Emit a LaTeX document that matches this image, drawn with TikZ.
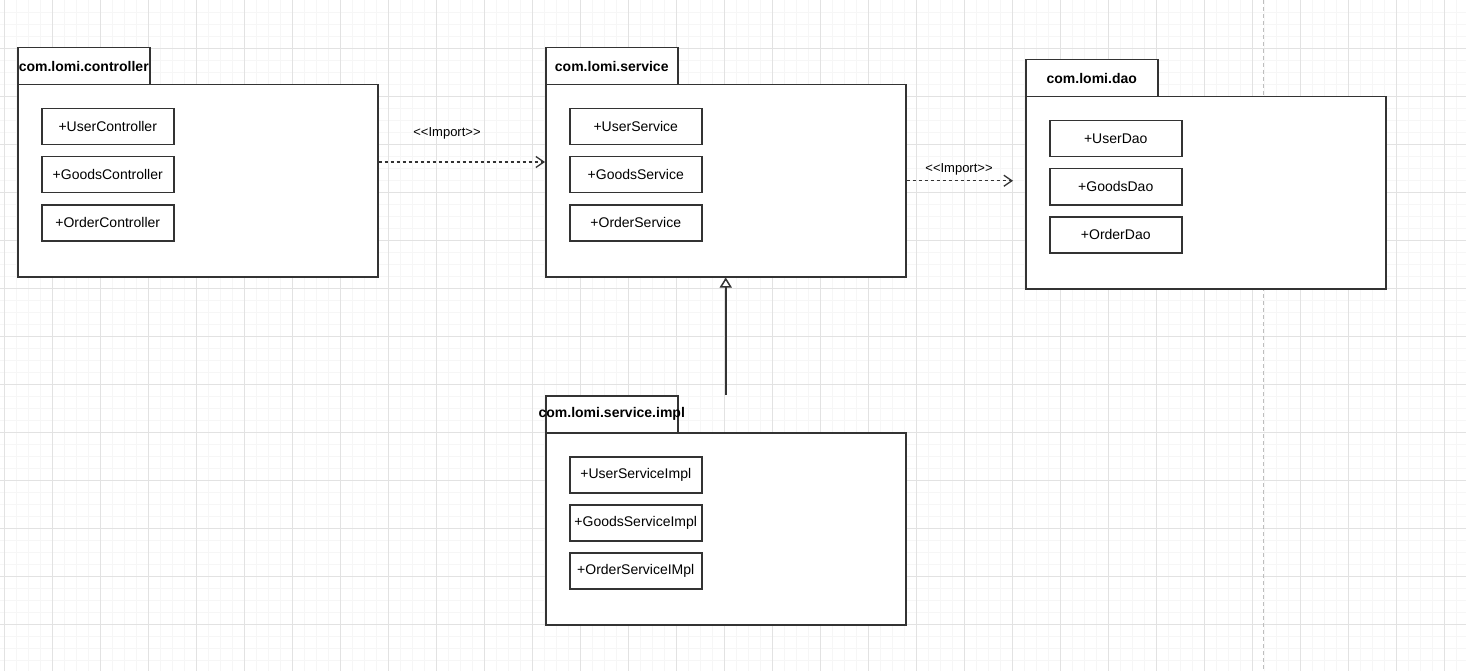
\documentclass[tikz,border=0pt]{standalone}
\usepackage{fontspec}
\setmainfont{Liberation Sans}
\usetikzlibrary{arrows.meta,calc}
\definecolor{linec}{RGB}{51,51,51}
\definecolor{majorg}{RGB}{226,226,226}
\definecolor{minorg}{RGB}{246,246,246}
\definecolor{pageline}{RGB}{190,190,190}
\tikzset{
  pkgtab/.style={draw=linec,line width=1.5pt,fill=white,minimum width=132pt,minimum height=37pt,anchor=north west,inner sep=0pt},
  tabtxt/.style={font=\bfseries\fontsize{14}{16}\selectfont,inner sep=0pt},
  pkgbody/.style={draw=linec,line width=1.5pt,fill=white,minimum width=360pt,minimum height=192pt,anchor=north west,inner sep=0pt},
  cls/.style={draw=linec,line width=1.5pt,fill=white,minimum width=132pt,minimum height=36pt,anchor=north west,inner sep=0pt,font=\fontsize{14}{16}\selectfont},
  dep/.style={draw=linec,line width=1.3pt,dash pattern=on 3pt off 3pt,-{Straight Barb[length=8pt,width=11pt,line width=1.3pt]}},
  gen/.style={draw=linec,line width=1.5pt,-{Triangle[open,length=10pt,width=12pt,fill=white]}},
  lbl/.style={font=\fontsize{13}{15}\selectfont,inner sep=0pt},
}
\begin{document}
\begin{tikzpicture}[x=1pt,y=-1pt]
\useasboundingbox (0,0) rectangle (1466,671);
\fill[white] (0,0) rectangle (1466,671);
% grid
\foreach \i in {0,...,122} \draw[minorg,line width=0.8pt] ({4+12*\i},0) -- ({4+12*\i},671);
\foreach \i in {1,...,56} \draw[minorg,line width=0.8pt] (0,{12*\i}) -- (1466,{12*\i});
\foreach \i in {0,...,30} \draw[majorg,line width=0.8pt] ({4+48*\i},0) -- ({4+48*\i},671);
\foreach \i in {1,...,13} \draw[majorg,line width=0.8pt] (0,{48*\i}) -- (1466,{48*\i});
\draw[pageline,line width=0.8pt,dash pattern=on 4pt off 3pt] (1263,0) -- (1263,671);

% controller package
\node[pkgtab] (ctab) at (17,47) {};
\node[pkgbody] (cbody) at (17,84) {};
\node[tabtxt] (ctxt) at (ctab.center) {com.lomi.controller};
\node[cls] (c1) at (41,108) {+UserController};
\node[cls] (c2) at (41,156) {+GoodsController};
\node[cls] (c3) at (41,204) {+OrderController};

% service package
\node[pkgtab] (stab) at (545,47) {};
\node[pkgbody] (sbody) at (545,84) {};
\node[tabtxt] (stxt) at (stab.center) {com.lomi.service};
\node[cls] (s1) at (569,108) {+UserService};
\node[cls] (s2) at (569,156) {+GoodsService};
\node[cls] (s3) at (569,204) {+OrderService};

% dao package
\node[pkgtab] (dtab) at (1025,59) {};
\node[pkgbody] (dbody) at (1025,96) {};
\node[tabtxt] (dtxt) at (dtab.center) {com.lomi.dao};
\node[cls] (d1) at (1049,120) {+UserDao};
\node[cls] (d2) at (1049,168) {+GoodsDao};
\node[cls] (d3) at (1049,216) {+OrderDao};

% impl package
\node[pkgtab] (itab) at (545,395) {};
\node[pkgbody] (ibody) at (545,432) {};
\node[tabtxt] (itxt) at (itab.center) {com.lomi.service.impl};
\node[cls] (i1) at (569,456) {+UserServiceImpl};
\node[cls] (i2) at (569,504) {+GoodsServiceImpl};
\node[cls] (i3) at (569,552) {+OrderServiceIMpl};

% connectors
\coordinate (a1) at ($(cbody.north east)+(0,78)$);
\draw[dep] (a1) -- (a1 -| sbody.west);
\node[lbl] (l1) at (447,133) {{<}{<}Import{>}{>}};

\coordinate (a2) at ($(dbody.west |- sbody.east)+(-12,0)$);
\draw[dep] (sbody.east) -- (a2);
\node[lbl] (l2) at (959,169) {{<}{<}Import{>}{>}};

\coordinate (a3) at (ibody.north |- itab.north);
\draw[gen] (a3) -- (sbody.south);
\end{tikzpicture}
\end{document}
